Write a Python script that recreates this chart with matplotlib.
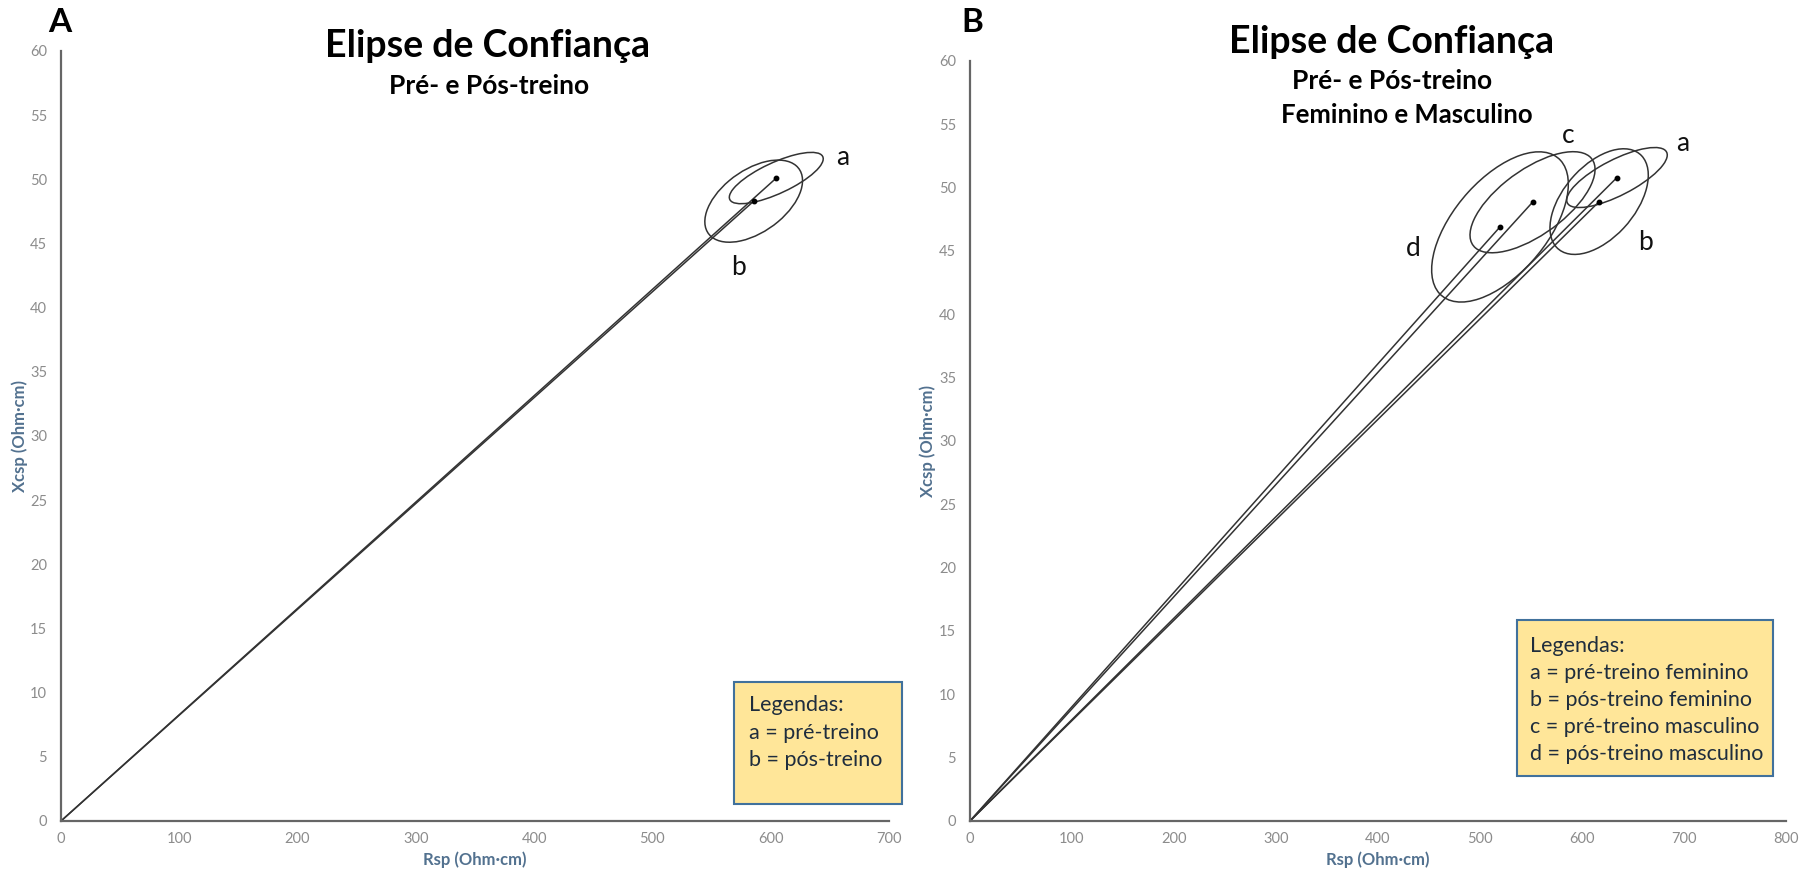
import numpy as np
import matplotlib
matplotlib.use("Agg")
import matplotlib.pyplot as plt
import matplotlib.transforms as transforms
from matplotlib.patches import Ellipse, Rectangle

plt.rcParams['font.family'] = ['Lato', 'DejaVu Sans']

# Painel A: pré- e pós-treino
a_grupos = ['a', 'b']
a_rsp = [604.7, 585.6]
a_xcsp = [50.1, 48.3]
a_rsp_semi = [39.7, 41.3]
a_xcsp_semi = [2.0, 3.2]
a_corr = [0.75, 0.5]
a_legenda = ['Legendas:', 'a = pré-treino', 'b = pós-treino']

# Painel B: pré- e pós-treino, feminino e masculino
b_grupos = ['a', 'b', 'c', 'd']
b_rsp = [634.3, 616.8, 551.5, 519.6]
b_xcsp = [50.8, 48.9, 48.85, 46.9]
b_rsp_semi = [49.3, 48.2, 61.3, 67.0]
b_xcsp_semi = [2.37, 4.17, 3.99, 5.93]
b_corr = [0.75, 0.5, 0.65, 0.57]
b_legenda = ['Legendas:', 'a = pré-treino feminino', 'b = pós-treino feminino',
             'c = pré-treino masculino', 'd = pós-treino masculino']

x_ticks_a = list(range(0, 701, 100))
x_ticks_b = list(range(0, 801, 100))
y_ticks = list(range(0, 61, 5))

LINE = "#333333"
TICK = "#8c8c8c"
AXLAB = "#52718f"

W, H = 1808, 869
fig = plt.figure(figsize=(W / 100, H / 100), dpi=100)


def fx(px):
    return px / W


def fy(py):
    return 1 - py / H


def elipse(ax, cx, cy, sx, sy, r):
    e = Ellipse((0, 0), width=2 * np.sqrt(1 + r), height=2 * np.sqrt(1 - r),
                facecolor="none", edgecolor=LINE, lw=1.1, clip_on=False)
    t = transforms.Affine2D().rotate_deg(45).scale(sx, sy).translate(cx, cy)
    e.set_transform(t + ax.transData)
    ax.add_patch(e)


def painel(rect, xticks, rsp, xcsp, sx, sy, corr, grupos, rotulos, ylab_x):
    ax = fig.add_axes(rect)
    for i in range(len(rsp)):
        ax.plot([0, rsp[i]], [0, xcsp[i]], color=LINE, lw=1.1, clip_on=False)
        elipse(ax, rsp[i], xcsp[i], sx[i], sy[i], corr[i])
    ax.plot(rsp, xcsp, "o", ms=3.2, color="black", clip_on=False)
    for g in grupos:
        x, y = rotulos[g]
        ax.text(x, y, g, fontsize=19, ha="center", va="center", color="#111111")
    ax.set_xlim(0, xticks[-1])
    ax.set_ylim(0, 60)
    ax.set_xticks(xticks)
    ax.set_yticks(y_ticks)
    ax.tick_params(length=0, colors=TICK, labelsize=10.5)
    ax.tick_params(axis="x", pad=8)
    ax.tick_params(axis="y", pad=10)
    for s in ["top", "right"]:
        ax.spines[s].set_visible(False)
    for s in ["left", "bottom"]:
        ax.spines[s].set_color("#666666")
        ax.spines[s].set_linewidth(1.6)
    ax.set_xlabel("Rsp (Ohm·cm)", color=AXLAB, fontsize=12, fontweight="bold", labelpad=4)
    ax.set_ylabel("Xcsp (Ohm·cm)", color=AXLAB, fontsize=12, fontweight="bold")
    ax.yaxis.set_label_coords(ylab_x, 0.5)
    return ax


rot_a = {'a': (661, 51.7), 'b': (572.6, 43.1)}
rot_b = {'a': (699, 53.5), 'b': (661.8, 45.7), 'c': (586, 54.1), 'd': (434.6, 45.2)}

painel([fx(61), fy(821), fx(889 - 61), (821 - 51) / H], x_ticks_a,
       a_rsp, a_xcsp, a_rsp_semi, a_xcsp_semi, a_corr, a_grupos, rot_a, -0.04)
painel([fx(970), fy(821), fx(1786 - 970), (821 - 61) / H], x_ticks_b,
       b_rsp, b_xcsp, b_rsp_semi, b_xcsp_semi, b_corr, b_grupos, rot_b, -0.042)

# titulos
fig.text(fx(60), fy(22), "A", fontsize=24, fontweight="bold", ha="center", va="center")
fig.text(fx(972), fy(22), "B", fontsize=24, fontweight="bold", ha="center", va="center")
fig.text(fx(488), fy(46), "Elipse de Confiança", fontsize=27, fontweight="bold", ha="center", va="center")
fig.text(fx(489), fy(86), "Pré- e Pós-treino", fontsize=19, fontweight="bold", ha="center", va="center")
fig.text(fx(1392), fy(42), "Elipse de Confiança", fontsize=27, fontweight="bold", ha="center", va="center")
fig.text(fx(1392), fy(81), "Pré- e Pós-treino", fontsize=19, fontweight="bold", ha="center", va="center")
fig.text(fx(1407), fy(115), "Feminino e Masculino", fontsize=18.5, fontweight="bold", ha="center", va="center")


def caixa(x0, y0, x1, y1, linhas, tx, ty0, passo):
    fig.patches.append(Rectangle((fx(x0), fy(y1)), fx(x1 - x0), (y1 - y0) / H,
                                 transform=fig.transFigure, facecolor="#ffe699",
                                 edgecolor="#41719c", lw=1.5))
    for k, s in enumerate(linhas):
        fig.text(fx(tx), fy(ty0 + k * passo), s, fontsize=15.5, color="#1f2d3d",
                 ha="left", va="center")


caixa(734.5, 681.5, 901.7, 803.7, a_legenda, 749.5, 705, 27.7)
caixa(1517.5, 620, 1773.5, 776, b_legenda, 1530, 646, 26.9)

fig.savefig("out.png", dpi=100, facecolor="white")
